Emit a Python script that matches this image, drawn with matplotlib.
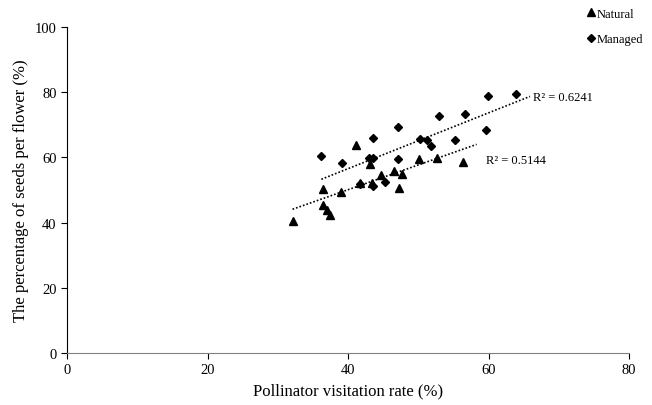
import numpy as np
import matplotlib
matplotlib.use("Agg")
import matplotlib.pyplot as plt

plt.rcParams['font.family'] = ['Liberation Serif', 'DejaVu Serif']

# values
natural_x = [32.1, 36.4, 37.0, 37.5, 36.5, 39.0, 41.1, 41.7, 43.1, 43.4, 44.7,
             46.6, 47.2, 47.7, 50.1, 52.7, 56.3]
natural_y = [40.6, 45.4, 43.9, 42.3, 50.4, 49.5, 63.9, 52.3, 58.0, 52.3, 54.5,
             55.7, 50.5, 54.9, 59.4, 59.7, 58.7]

managed_x = [36.2, 39.1, 41.7, 43.0, 43.6, 43.6, 43.5, 45.2, 47.1, 47.1, 50.3,
             51.2, 51.8, 52.9, 55.2, 56.6, 59.7, 59.9, 63.9]
managed_y = [60.5, 58.2, 52.0, 59.9, 59.9, 66.0, 51.1, 52.5, 69.4, 59.6, 65.6,
             65.2, 63.5, 72.6, 65.3, 73.3, 68.5, 78.9, 79.3]

r2_natural = "R\u00b2 = 0.5144"
r2_managed = "R\u00b2 = 0.6241"

fig = plt.figure(figsize=(6.52, 4.06), dpi=100)
ax = fig.add_axes([0.1028, 0.128, 0.862, 0.803])

ax.plot(natural_x, natural_y, "k^", markersize=6, linestyle="none", label="Natural")
ax.plot(managed_x, managed_y, "kD", markersize=4.5, linestyle="none", label="Managed")

# linear trendlines, drawn a little past the last point like the original
for xs, ys in [(natural_x, natural_y), (managed_x, managed_y)]:
    k, b = np.polyfit(xs, ys, 1)
    xx = np.array([min(xs), max(xs) + 2])
    ax.plot(xx, k * xx + b, color="black", linestyle=(0, (1, 1.2)), linewidth=1.2)

ax.text(66.3, 78.6, r2_managed, fontsize=9, va="center")
ax.text(59.6, 59.2, r2_natural, fontsize=9, va="center")

ax.set_xlim(0, 80)
ax.set_ylim(0, 100)
ax.set_xticks([0, 20, 40, 60, 80])
ax.set_yticks([0, 20, 40, 60, 80, 100])
ax.tick_params(labelsize=10.5, length=4, direction="out")
ax.spines["top"].set_visible(False)
ax.spines["right"].set_visible(False)
ax.spines["bottom"].set_color("#808080")
ax.set_xlabel("Pollinator visitation rate (%)", fontsize=12)
ax.set_ylabel("The percentage of seeds per flower (%)", fontsize=12)

fig.legend(loc="upper right", bbox_to_anchor=(1.0, 1.0), frameon=False,
           fontsize=9, handlelength=0.6, handletextpad=0.2, labelspacing=1.1,
           borderaxespad=0.3)

fig.savefig("out.png", dpi=100)
